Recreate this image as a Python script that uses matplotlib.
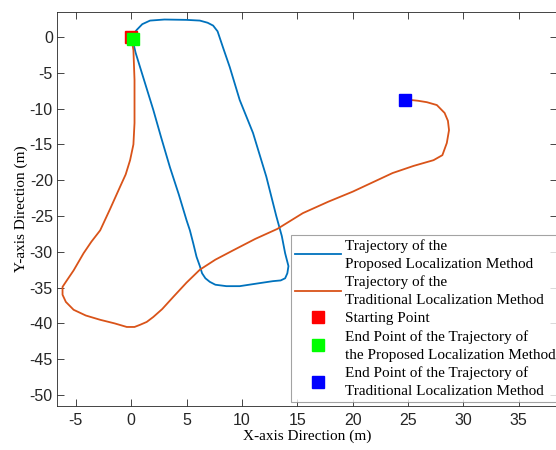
import numpy as np
from matplotlib import pyplot as plt

# trajectory of the proposed method (blue)
prop_x = [0.0, 0.2, 0.5, 1.0, 1.7, 3.0, 5.0, 6.2, 6.9, 7.4, 7.8, 8.3, 8.9, 9.8, 11.0, 12.2, 13.1,
          13.6, 13.9, 14.2, 14.1, 13.9, 13.5, 12.8, 11.5, 9.8, 8.6, 7.6, 7.1, 6.7, 6.4, 6.2, 5.9,
          5.6, 5.3, 5.0, 4.3, 3.5, 2.7, 2.0, 1.4, 0.8, 0.4, 0.2, 0.15]
prop_y = [0.0, 0.4, 1.0, 1.8, 2.3, 2.45, 2.4, 2.3, 2.0, 1.6, 0.8, -1.5, -4.2, -8.8, -13.4, -19.5, -25.0,
          -27.8, -30.2, -32.0, -33.0, -33.7, -34.0, -34.1, -34.4, -34.8, -34.8, -34.6, -34.2, -33.7, -33.0, -32.0, -30.7,
          -28.8, -27.0, -25.6, -22.0, -18.2, -14.0, -10.2, -7.2, -4.2, -2.2, -0.9, -0.25]

# trajectory of the traditional method (orange)
trad_x = [0.0, 0.2, 0.3, 0.3, 0.2, -0.1, -0.5, -1.0, -1.9, -2.8, -3.6, -4.3, -5.2, -5.9, -6.2, -6.2, -5.9,
          -5.2, -4.1, -2.8, -1.5, -0.4, 0.3, 0.8, 1.4, 2.0, 2.8, 3.8, 5.0, 6.2, 7.6, 9.2, 11.2,
          13.2, 15.5, 17.8, 20.0, 21.8, 23.6, 25.5, 27.3, 28.1, 28.5, 28.7, 28.6, 28.3, 27.6, 26.7, 25.9, 24.7]
trad_y = [0.0, -1.8, -6.0, -12.0, -15.0, -17.2, -19.2, -20.9, -24.0, -27.0, -28.6, -30.2, -32.6, -34.2, -34.9, -36.0, -37.0,
          -38.1, -38.9, -39.5, -40.0, -40.5, -40.5, -40.2, -39.8, -39.1, -38.0, -36.3, -34.3, -32.5, -31.1, -29.8, -28.2,
          -26.8, -24.6, -23.0, -21.6, -20.3, -19.0, -18.0, -17.2, -16.5, -14.8, -13.0, -11.7, -10.6, -9.5, -9.1, -8.9, -8.7]

start_pt = (0.0, 0.0)
prop_end = (0.15, -0.25)
trad_end = (24.7, -8.8)

x_ticks = np.arange(-5, 36, 5)
y_ticks = np.arange(-50, 1, 5)

labels = ['Trajectory of the\nProposed Localization Method',
          'Trajectory of the\nTraditional Localization Method',
          'Starting Point',
          'End Point of the Trajectory of\nthe Proposed Localization Method',
          'End Point of the Trajectory of\nTraditional Localization Method']

fig = plt.figure(figsize=(5.56, 4.5), dpi=100)
ax = fig.add_axes([57/556, 44.3/450, 500/556, 393.7/450])

ax.plot(prop_x, prop_y, color='#0072BD', lw=1.3, label=labels[0])
ax.plot(trad_x, trad_y, color='#D95319', lw=1.3, label=labels[1])
ax.plot(*start_pt, 's', color='#FF0000', ms=9, mec='#FF0000', label=labels[2])
ax.plot(*prop_end, 's', color='#00FF00', ms=9, mec='#00FF00', label=labels[3])
ax.plot(*trad_end, 's', color='#0000FF', ms=9, mec='#0000FF', label=labels[4])

ax.set_xlim(-6.7, 38.45)
ax.set_ylim(-51.5, 3.5)
ax.set_xticks(x_ticks)
ax.set_yticks(y_ticks)

tick_font = {'family': 'Liberation Sans', 'size': 11.5}
ax.set_xticklabels([str(t) for t in x_ticks], fontdict=tick_font)
ax.set_yticklabels([str(t) for t in y_ticks], fontdict=tick_font)
ax.tick_params(direction='in', top=True, right=True, length=5, width=0.6, colors='#262626')
ax.tick_params(axis='y', pad=3)
ax.tick_params(axis='x', pad=5)
for s in ax.spines.values():
    s.set_color('#262626')
    s.set_linewidth(0.6)

ax.set_xlabel('X-axis Direction (m)', family='Liberation Serif', fontsize=11, labelpad=1)
ax.set_ylabel('Y-axis Direction (m)', family='Liberation Serif', fontsize=11, labelpad=1)

leg = ax.legend(loc='upper left', bbox_to_anchor=(291/556, 1 - 235/450), bbox_transform=fig.transFigure,
                prop={'family': 'Liberation Serif', 'size': 11}, frameon=True, fancybox=False,
                handlelength=3.0, handletextpad=0.3, labelspacing=0.3, borderpad=0.25,
                borderaxespad=0, markerscale=1.0)
for t in leg.get_texts():
    t.set_linespacing(1.5)
leg.get_frame().set_edgecolor('#8c8c8c')
leg.get_frame().set_linewidth(0.8)

fig.savefig('out.png', dpi=100)
